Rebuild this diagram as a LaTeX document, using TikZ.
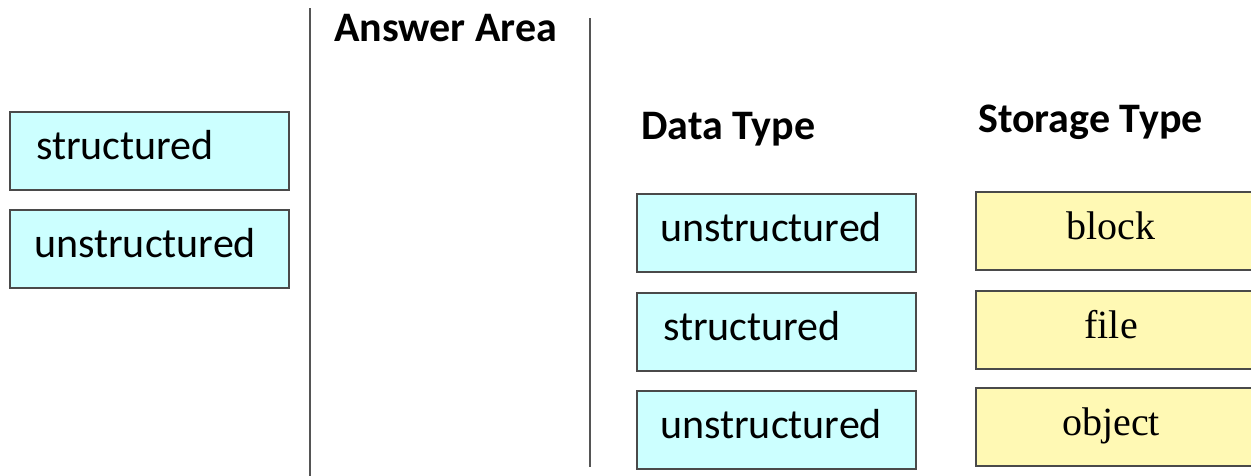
\documentclass[tikz,border=0pt]{standalone}
\usepackage{fontspec}
\setmainfont{Carlito}
\newfontfamily\timesfont{Liberation Serif}
\definecolor{cyanfill}{HTML}{CCFFFF}
\definecolor{yellowfill}{HTML}{FFF9B4}
\definecolor{boxline}{HTML}{4A4A4A}
\definecolor{sepline}{HTML}{555555}
\begin{document}
\begin{tikzpicture}[x=1pt,y=-1pt,
  dtbox/.style={draw=boxline, line width=2.4pt, fill=cyanfill, anchor=north west,
    inner ysep=0pt, inner xsep=25pt, text width=229pt, align=left,
    text height=47pt, text depth=31pt, font=\fontsize{42}{50}\selectfont},
  stbox/.style={draw=boxline, line width=2.4pt, fill=yellowfill, anchor=north west,
    inner ysep=0pt, inner xsep=0pt, text width=300pt, align=left,
    text height=47pt, text depth=31pt, font=\timesfont\fontsize{40}{48}\selectfont},
  heading/.style={anchor=base west, inner sep=0pt, font=\bfseries\fontsize{42}{50}\selectfont},
  sep/.style={draw=sepline, line width=2.4pt}]
\clip (0,0) rectangle (1251,475);
\fill[white] (0,0) rectangle (1251,475);
% separators
\draw[sep] (310,8) -- (310,480);
\draw[sep] (590,18) -- (590,467);
% headings
\node[heading] (answer) at (334,41) {Answer Area};
\node[heading] (datatype) at (641,139) {Data Type};
\node[heading] (storagetype) at (978,132) {Storage Type};
% left boxes
\node[dtbox, inner xsep=26pt, text width=227pt] (l1) at (9,111) {structured};
\node[dtbox, inner xsep=24pt, text width=231pt] (l2) at (9,209) {unstructured};
% data type boxes
\node[dtbox, inner xsep=23pt, text width=233pt] (d1) at (636,193) {unstructured};
\node[dtbox, inner xsep=26pt, text width=227pt] (d2) at (636,292) {structured};
\node[dtbox, inner xsep=23pt, text width=233pt] (d3) at (636,390) {unstructured};
% storage type boxes
\node[stbox] (s1) at (975,191) {\makebox[270pt]{block}};
\node[stbox] (s2) at (975,290) {\makebox[270pt]{file}};
\node[stbox] (s3) at (975,387) {\makebox[270pt]{object}};
\end{tikzpicture}
\end{document}
